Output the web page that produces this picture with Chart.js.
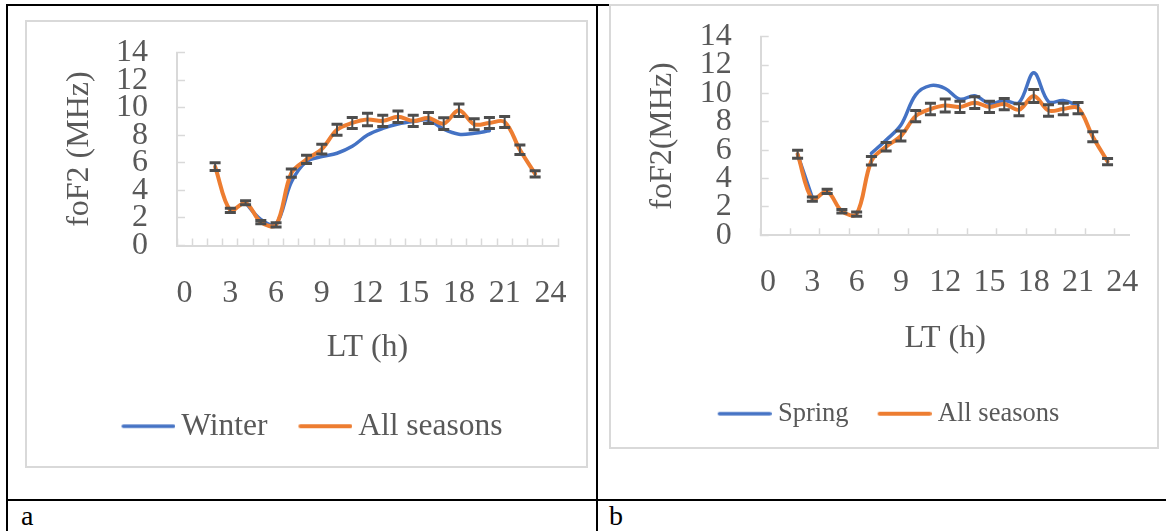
<!DOCTYPE html>
<html><head><meta charset="utf-8">
<script src="https://cdn.jsdelivr.net/npm/chart.js@4.4.1/dist/chart.umd.min.js"></script>
<style>
html,body{margin:0;padding:0;background:#fff;}
body{width:1166px;height:531px;position:relative;overflow:hidden;font-family:"Liberation Serif","Times New Roman",serif;}
.ln{position:absolute;background:#000;}
.box{position:absolute;border:2px solid #d9d9d9;background:#fff;}
canvas{position:absolute;}
.lab{position:absolute;font-size:28px;color:#000;line-height:1;}
</style></head><body>
<div class="ln" style="left:6px;top:4px;width:2px;height:527px"></div>
<div class="ln" style="left:6px;top:4px;width:604px;height:2px"></div>
<div class="ln" style="left:596px;top:4px;width:2px;height:527px"></div>
<div class="ln" style="left:6px;top:499px;width:1160px;height:2px"></div>
<div class="box" style="left:25px;top:20px;width:559px;height:444px"></div>
<div class="box" style="left:609px;top:4px;width:546px;height:441px"></div>
<canvas id="cA" width="570" height="430" style="left:27px;top:22px"></canvas>
<canvas id="cB" width="555" height="431" style="left:611px;top:6px"></canvas>
<div class="lab" style="left:21px;top:502px">a</div>
<div class="lab" style="left:609px;top:502px">b</div>
<script>
// ---- data ----
const hoursAll = [2,3,4,5,6,7,8,9,10,11,12,13,14,15,16,17,18,19,20,21,22,23];
const allSeasons = [5.72,2.55,3.1,1.7,1.5,5.25,6.25,7.0,8.4,8.9,9.15,9.05,9.35,9.05,9.25,8.85,9.82,8.8,8.9,8.97,6.95,5.2];
const allSeasonsErr = [0.28,0.15,0.15,0.12,0.15,0.3,0.3,0.35,0.4,0.4,0.45,0.4,0.42,0.4,0.4,0.42,0.45,0.4,0.4,0.4,0.35,0.22];
const hoursWinter = [4,5,6,7,8,9,10,11,12,13,14,15,16,17,18,19,20];
const winter = [3.1,1.9,1.55,4.6,6.1,6.45,6.7,7.2,8.02,8.5,8.82,9.0,9.1,8.45,8.08,8.15,8.33];
const hoursSpring = [2,3,4,5,6,7,8,9,10,11,12,13,14,15,16,17,18,19,20,21];
const spring = [5.7,2.65,null,null,null,5.78,6.72,7.77,9.9,10.55,10.35,9.6,9.84,9.3,9.5,9.35,11.45,9.42,9.5,9.15];
const xLabelHours = [0,3,6,9,12,15,18,21,24];
const xTickLabels = ['0','3','6','9','12','15','18','21','24'];
const yTickValues = [0,2,4,6,8,10,12,14];

const FONT = 'Liberation Serif';
const TXT = '#595959';
const AX = '#d9d9d9';
const BLUE = '#4472C4';
const ORANGE = '#ED7D31';

function pts(hours, vals){ return hours.map((h,i)=>({x:h, y:vals[i]})); }

// legend swatch: a line of length L at the right end of an image of width L+d
function legendLine(color, L, d, lw){
  const c = document.createElement('canvas');
  c.width = L + d; c.height = 8;
  const g = c.getContext('2d');
  g.strokeStyle = color; g.lineWidth = lw; g.lineCap = 'round';
  g.beginPath(); g.moveTo(d + lw/2, 4); g.lineTo(L + d - lw/2, 4); g.stroke();
  return c;
}

function errorBarPlugin(){
  return {
    id:'errorBars',
    afterDatasetsDraw(chart){
      const {ctx} = chart; const xs = chart.scales.x, ys = chart.scales.y;
      ctx.save();
      ctx.strokeStyle = '#4d4d4d';
      const cap = 11;
      hoursAll.forEach((h,i)=>{
        const v = allSeasons[i], e = allSeasonsErr[i];
        const px = xs.getPixelForValue(h);
        const pt = ys.getPixelForValue(v+e), pb = ys.getPixelForValue(v-e);
        ctx.lineWidth = 2;
        ctx.beginPath(); ctx.moveTo(px,pt); ctx.lineTo(px,pb); ctx.stroke();
        ctx.lineWidth = 3;
        ctx.beginPath();
        ctx.moveTo(px-cap/2,pt); ctx.lineTo(px+cap/2,pt);
        ctx.moveTo(px-cap/2,pb); ctx.lineTo(px+cap/2,pb);
        ctx.stroke();
      });
      ctx.restore();
    }
  };
}

function zeroPad(s){ s.paddingTop = 0; s.paddingBottom = 0; s.paddingLeft = 0; s.paddingRight = 0; }

function makeChart(id, o){
  const xTicks = [];
  for (let v=-0.5; v<=24.5; v+=1) xTicks.push(v);
  xLabelHours.forEach(h=>xTicks.push(h));
  xTicks.sort((a,b)=>a-b);
  const L = 54;
  return new Chart(document.getElementById(id), {
    type:'line',
    data:{datasets:[
      {label:o.seasonLabel, data:pts(o.seasonHours,o.seasonVals), borderColor:BLUE, backgroundColor:BLUE,
       borderWidth:3.5, tension:0.35, pointRadius:0, spanGaps:false, order:1, borderCapStyle:'round', borderJoinStyle:'round',
       pointStyle:legendLine(BLUE, L, o.legendShift, 3.5)},
      {label:'All seasons', data:pts(hoursAll,allSeasons), borderColor:ORANGE, backgroundColor:ORANGE,
       borderWidth:4, tension:0.35, pointRadius:0, order:0, borderCapStyle:'round', borderJoinStyle:'round',
       pointStyle:legendLine(ORANGE, L, o.legendShift, 4)}
    ]},
    options:{
      responsive:false, animation:false, events:[],
      layout:{padding:{top:30.7,left:0,right:0,bottom:0}},
      plugins:{
        tooltip:{enabled:false},
        legend:{position:'bottom', align:'center',
          labels:{usePointStyle:true, pointStyleWidth:L - o.legendShift,
            font:{family:FONT,size:o.legendSize}, color:TXT, padding:o.legendPad,
            sort:(a,b)=>a.datasetIndex-b.datasetIndex}}
      },
      scales:{
        x:{type:'linear', min:-0.5, max:24.5,
          afterBuildTicks:s=>{ s.ticks = xTicks.map(v=>({value:v})); },
          afterFit:s=>{ s.height = o.xHeight; zeroPad(s); },
          ticks:{autoSkip:false, maxRotation:0, minRotation:0, padding:o.xPad, color:TXT,
            font:{family:FONT,size:32},
            callback:(v)=>{ const i = xLabelHours.indexOf(v); return i>=0 ? xTickLabels[i] : ''; }},
          grid:{drawOnChartArea:false, tickLength:-7, tickWidth:1.5,
            tickColor:(c)=>{ const v = c.tick ? c.tick.value : 0; if (v%1===0) return 'rgba(0,0,0,0)';
              return ((v+0.5)%o.tickEvery===0) ? AX : 'rgba(0,0,0,0)'; }},
          border:{color:AX, width:2},
          title:{display:true, text:'LT (h)', color:TXT, font:{family:FONT,size:32}, padding:{top:0,bottom:o.xTitlePad}}
        },
        y:{type:'linear', position:'left', min:0, max:14,
          afterBuildTicks:s=>{ s.ticks = yTickValues.map(v=>({value:v})); },
          afterFit:s=>{ s.width = o.yWidth; zeroPad(s); },
          ticks:{autoSkip:false, padding:37, color:TXT, font:{family:FONT,size:32}},
          grid:{drawOnChartArea:false, tickLength:-8, tickWidth:1.5, tickColor:AX},
          border:{color:AX, width:2},
          title:{display:true, text:o.yTitle, color:TXT, font:{family:FONT,size:32}, padding:{top:o.yTitlePad,bottom:0}}
        },
        yR:{type:'linear', position:'right', display:true,
          afterFit:s=>{ s.width = o.rightPad; zeroPad(s); },
          grid:{display:false, drawTicks:false}, border:{display:false}, ticks:{display:false}}
      }
    },
    plugins:[errorBarPlugin()]
  });
}

makeChart('cA', {seasonLabel:'Winter', seasonHours:hoursWinter, seasonVals:winter,
  legendSize:31.5, legendPad:31, legendShift:10, xHeight:134, xPad:36, xTitlePad:12.3, tickEvery:1,
  yWidth:150, yTitle:'foF2 (MHz)', yTitlePad:33.8, rightPad:39});
makeChart('cB', {seasonLabel:'Spring', seasonHours:hoursSpring, seasonVals:spring,
  legendSize:26.5, legendPad:29, legendShift:7, xHeight:136.2, xPad:35, xTitlePad:13.3, tickEvery:2,
  yWidth:149.7, yTitle:'foF2(MHz)', yTitlePad:32.8, rightPad:36.3});
</script>
</body></html>
